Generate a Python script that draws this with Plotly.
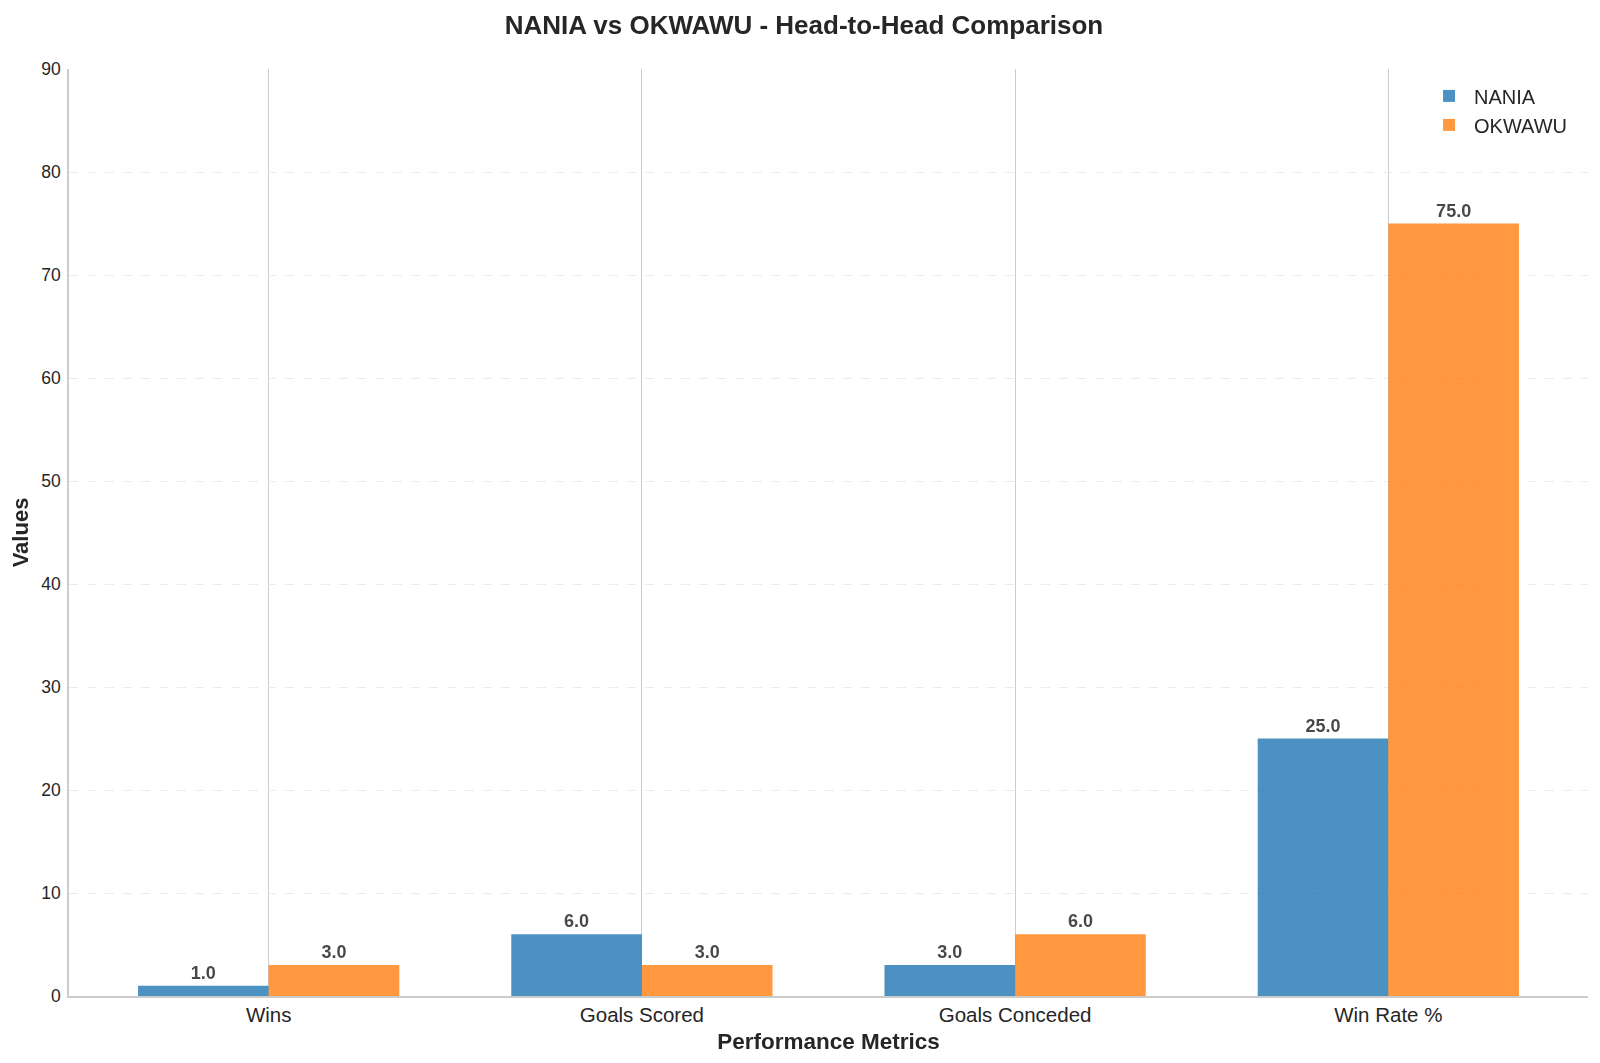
import plotly.graph_objects as go

# head-to-head numbers
metrics = ['Wins', 'Goals Scored', 'Goals Conceded', 'Win Rate %']
nania = [1, 6, 3, 25]
okwawu = [3, 3, 6, 75]
y_ticks = [0, 10, 20, 30, 40, 50, 60, 70, 80, 90]

FONT = 'Liberation Sans, Arial, sans-serif'
TXT = '#262626'
W, H = 1592, 1055  # page body has an 8px margin, so keep the figure inside the window


def main():
    pos = list(range(len(metrics)))
    fig = go.Figure()
    fig.add_trace(go.Bar(
        x=pos, y=nania, name='NANIA',
        marker=dict(color='#1f77b4', line=dict(width=0)), opacity=0.8,
        text=['{:.1f}'.format(v) for v in nania], textposition='outside',
        textfont=dict(family=FONT, size=18, color='#1a1a1a', weight='bold'),
        cliponaxis=False))
    fig.add_trace(go.Bar(
        x=pos, y=okwawu, name='OKWAWU',
        marker=dict(color='#ff7f0e', line=dict(width=0)), opacity=0.8,
        text=['{:.1f}'.format(v) for v in okwawu], textposition='outside',
        textfont=dict(family=FONT, size=18, color='#1a1a1a', weight='bold'),
        cliponaxis=False))

    fig.update_layout(
        width=W, height=H,
        margin=dict(l=61, r=12, t=61, b=67),
        paper_bgcolor='white', plot_bgcolor='white',
        font=dict(family=FONT, color=TXT),
        barmode='group', bargap=0.3, bargroupgap=0,
        title=dict(text='<b>NANIA vs OKWAWU - Head-to-Head Comparison</b>',
                   x=0.5, xanchor='center', y=1 - 16.5 / H, yanchor='middle',
                   font=dict(size=26, color=TXT)),
        legend=dict(x=0.9895, xanchor='right', y=0.992, yanchor='top',
                    font=dict(size=20, color=TXT), bgcolor='rgba(0,0,0,0)',
                    itemwidth=40),
        xaxis=dict(
            range=[-0.535, 3.535], tickvals=pos, ticktext=metrics,
            tickfont=dict(size=20.5, color=TXT),
            showgrid=True, gridcolor='#cccccc', gridwidth=1,
            showline=True, linecolor='#cccccc', linewidth=1.5,
            ticks='', zeroline=False,
            title=dict(text='<b>Performance Metrics</b>', font=dict(size=22.5, color=TXT),
                       standoff=8)),
        yaxis=dict(
            range=[0, 90], tickvals=y_ticks,
            tickfont=dict(size=17.5, color=TXT), ticklabelstandoff=3,
            showgrid=True, gridcolor='#ebebeb', gridwidth=1, griddash='dash',
            showline=True, linecolor='#cccccc', linewidth=1.5,
            ticks='', zeroline=False,
            title=dict(text='<b>Values</b>', font=dict(size=22, color=TXT),
                       standoff=7)),
    )
    fig.write_html('out.html')


if __name__ == '__main__':
    main()
